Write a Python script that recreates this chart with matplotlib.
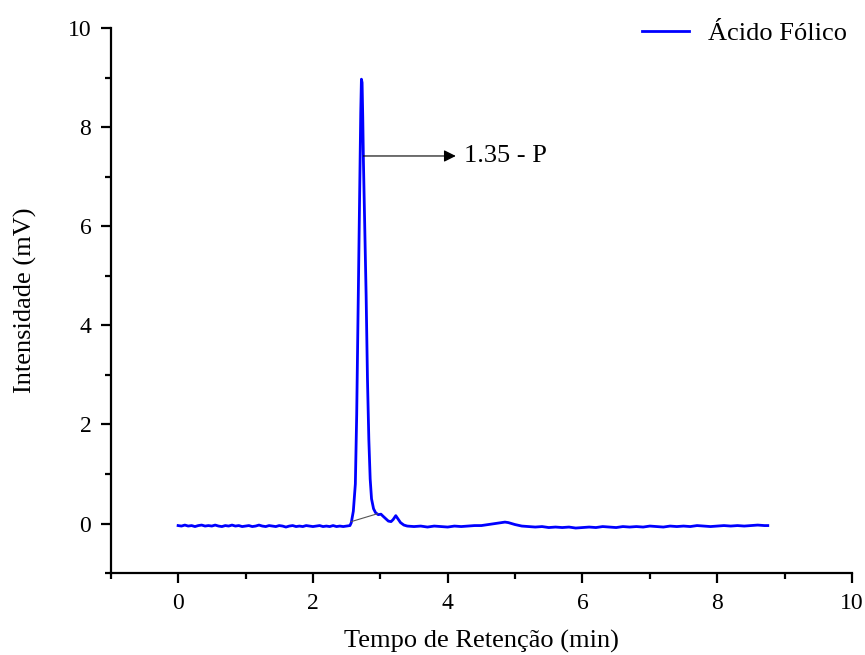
import matplotlib.pyplot as plt

plt.rcParams['font.family'] = ['Liberation Serif', 'DejaVu Serif']

# baseline before the peak (min, mV)
t_pre = [0.00, 0.05, 0.10, 0.15, 0.20, 0.25, 0.30, 0.35, 0.40, 0.45,
         0.50, 0.55, 0.60, 0.65, 0.70, 0.75, 0.80, 0.85, 0.90, 0.95,
         1.00, 1.05, 1.10, 1.15, 1.20, 1.25, 1.30, 1.35, 1.40, 1.45,
         1.50, 1.55, 1.60, 1.65, 1.70, 1.75, 1.80, 1.85, 1.90, 1.95,
         2.00, 2.05, 2.10, 2.15, 2.20, 2.25, 2.30, 2.35, 2.40, 2.45, 2.50]
i_pre = [-0.04, -0.05, -0.03, -0.05, -0.04, -0.06, -0.04, -0.03, -0.05, -0.04,
         -0.05, -0.03, -0.05, -0.06, -0.04, -0.05, -0.03, -0.05, -0.04, -0.06,
         -0.05, -0.04, -0.06, -0.05, -0.03, -0.05, -0.06, -0.04, -0.05, -0.06,
         -0.04, -0.05, -0.07, -0.05, -0.04, -0.06, -0.05, -0.06, -0.04, -0.05,
         -0.06, -0.05, -0.04, -0.06, -0.05, -0.06, -0.04, -0.06, -0.05, -0.06, -0.05]

# main peak and shoulders
t_peak = [2.55, 2.57, 2.60, 2.63, 2.65, 2.67, 2.69, 2.71, 2.72, 2.73,
          2.74, 2.75, 2.77, 2.79, 2.81, 2.83, 2.85, 2.87, 2.90, 2.93,
          2.97, 3.01, 3.04, 3.08, 3.12, 3.16, 3.19, 3.23, 3.26, 3.30, 3.35]
i_peak = [-0.04, 0.02, 0.25, 0.80, 2.20, 4.20, 6.20, 8.30, 8.97, 8.90,
          8.20, 7.30, 5.90, 4.60, 2.90, 1.70, 0.90, 0.50, 0.30, 0.22,
          0.18, 0.19, 0.15, 0.10, 0.05, 0.04, 0.08, 0.16, 0.10, 0.02, -0.03]

# baseline after the peak
t_post = [3.40, 3.50, 3.60, 3.70, 3.80, 3.90, 4.00, 4.10, 4.20, 4.30,
          4.40, 4.50, 4.60, 4.70, 4.80, 4.85, 4.90, 5.00, 5.10, 5.20,
          5.30, 5.40, 5.50, 5.60, 5.70, 5.80, 5.90, 6.00, 6.10, 6.20,
          6.30, 6.40, 6.50, 6.60, 6.70, 6.80, 6.90, 7.00, 7.10, 7.20,
          7.30, 7.40, 7.50, 7.60, 7.70, 7.80, 7.90, 8.00, 8.10, 8.20,
          8.30, 8.40, 8.50, 8.60, 8.70, 8.75]
i_post = [-0.05, -0.06, -0.05, -0.07, -0.05, -0.06, -0.07, -0.05, -0.06, -0.05,
          -0.04, -0.04, -0.02, 0.00, 0.02, 0.03, 0.02, -0.02, -0.05, -0.06,
          -0.07, -0.06, -0.08, -0.07, -0.08, -0.07, -0.09, -0.08, -0.07, -0.08,
          -0.06, -0.07, -0.08, -0.06, -0.07, -0.06, -0.07, -0.05, -0.06, -0.07,
          -0.05, -0.06, -0.05, -0.06, -0.04, -0.05, -0.06, -0.05, -0.04, -0.05,
          -0.04, -0.05, -0.04, -0.03, -0.04, -0.04]

t = t_pre + t_peak + t_post
intensity = i_pre + i_peak + i_post

# integration baseline under the peak
base_t = [2.57, 2.96]
base_i = [0.04, 0.20]

fig = plt.figure(figsize=(8.65, 6.55), dpi=100)
ax = fig.add_axes([0.128, 0.125, 0.857, 0.832])

ax.plot(t, intensity, color='#0000ff', lw=2.0, label='Ácido Fólico')
ax.plot(base_t, base_i, color='#555555', lw=0.8)

ax.annotate('1.35 - P', xy=(4.12, 7.42), xytext=(4.24, 7.42),
            fontsize=19, va='center', ha='left')
ax.annotate('', xy=(4.12, 7.42), xytext=(2.75, 7.42),
            arrowprops=dict(arrowstyle='-|>', color='black', lw=0.8,
                            mutation_scale=18, shrinkA=0, shrinkB=0))

ax.set_xlim(-1, 10)
ax.set_ylim(-1, 10)
ax.set_xticks([0, 2, 4, 6, 8, 10])
ax.set_xticks([-1, 1, 3, 5, 7, 9], minor=True)
ax.set_yticks([0, 2, 4, 6, 8, 10])
ax.set_yticks([-1, 1, 3, 5, 7, 9], minor=True)

for side in ['top', 'right']:
    ax.spines[side].set_visible(False)
for side in ['left', 'bottom']:
    ax.spines[side].set_linewidth(1.6)

ax.tick_params(which='major', direction='out', length=7, width=1.6,
               labelsize=17, pad=7)
ax.tick_params(which='minor', direction='out', length=4, width=1.6)

ax.set_xlabel('Tempo de Retenção (min)', fontsize=19, labelpad=12)
ax.set_ylabel('Intensidade (mV)', fontsize=19, labelpad=22)

ax.legend(loc='upper right', frameon=False, fontsize=19, handlelength=1.8,
          handletextpad=0.7, bbox_to_anchor=(1.025, 1.055))

fig.savefig('out.png', dpi=100)
